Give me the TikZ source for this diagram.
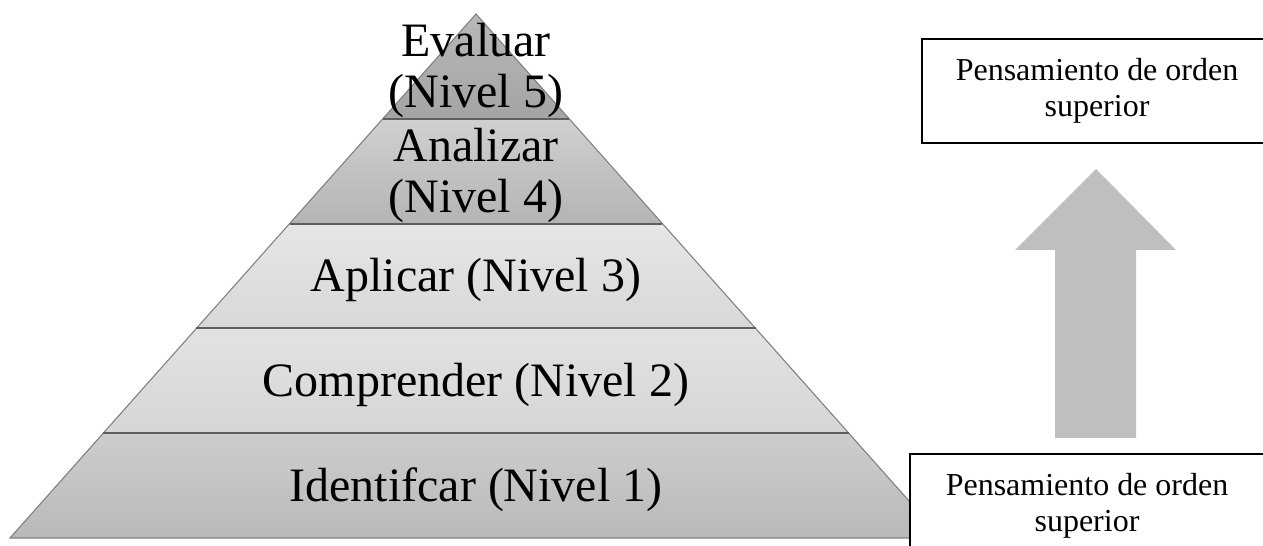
\documentclass[tikz,border=0pt]{standalone}
\usepackage{fontspec}
\setmainfont{Liberation Serif}
\usetikzlibrary{calc}
\definecolor{bandtop0}{HTML}{CDCDCD}
\definecolor{bandbot0}{HTML}{B9B9B9}
\definecolor{bandtop1}{HTML}{E2E2E2}
\definecolor{bandbot1}{HTML}{D6D6D6}
\definecolor{bandtop2}{HTML}{E6E6E6}
\definecolor{bandbot2}{HTML}{D8D8D8}
\definecolor{bandtop3}{HTML}{D0D0D0}
\definecolor{bandbot3}{HTML}{B4B4B4}
\definecolor{bandtop4}{HTML}{B8B8B8}
\definecolor{bandbot4}{HTML}{A4A4A4}
\definecolor{edgecol}{HTML}{7F7F7F}
\definecolor{sepcol}{HTML}{5F5F5F}
\definecolor{arrowcol}{HTML}{BFBFBF}
\tikzset{
  lvl/.style={align=center, inner sep=0pt, yshift=-0.08cm, font=\fontsize{27.3}{28.8}\selectfont},
  sidebox/.style={draw, line width=0.85pt, fill=white, align=center,
    minimum width=7cm, minimum height=2.08cm, inner sep=0pt,
    font=\fontsize{18.2}{20.5}\selectfont},
  sepline/.style={draw=sepcol, line width=1.1pt},
  edgeline/.style={draw=edgecol, line width=0.6pt},
}

\begin{document}
\begin{tikzpicture}
  \useasboundingbox (0,0) rectangle (25.26,10.92);
  \clip (0,0) rectangle (25.26,10.92);
  % pyramid corners
  \coordinate (bl)   at (0.2,  0.16);
  \coordinate (br)   at (18.84,0.16);
  \coordinate (bc)   at (9.52, 0.16);
  \coordinate (apex) at (9.52, 10.64);
  \foreach \k in {0,...,4} {
    \pgfmathsetmacro\lo{\k/5}
    \pgfmathsetmacro\hi{(\k+1)/5}
    \shade[top color=bandtop\k, bottom color=bandbot\k]
      ($(bl)!\lo!(apex)$) -- ($(br)!\lo!(apex)$) -- ($(br)!\hi!(apex)$) -- ($(bl)!\hi!(apex)$) -- cycle;
  }
  \draw[edgeline] (bl) -- (apex) -- (br) -- cycle;
  \foreach \k in {1,...,4}
    \draw[sepline] ($(bl)!\k/5!(apex)$) -- ($(br)!\k/5!(apex)$);
  % levels
  \node[lvl] (nivel1) at ($(bc)!0.1!(apex)$) {Identifcar (Nivel 1)};
  \node[lvl] (nivel2) at ($(bc)!0.3!(apex)$) {Comprender (Nivel 2)};
  \node[lvl] (nivel3) at ($(bc)!0.5!(apex)$) {Aplicar (Nivel 3)};
  \node[lvl] (nivel4) at ($(bc)!0.7!(apex)$) {Analizar\\(Nivel 4)};
  \node[lvl] (nivel5) at ($(bc)!0.9!(apex)$) {Evaluar\\(Nivel 5)};
  % block arrow
  \fill[arrowcol] (21.10,2.16) -- (22.72,2.16) -- (22.72,5.92) -- (23.52,5.92)
    -- (21.92,7.54) -- (20.30,5.92) -- (21.10,5.92) -- cycle;
  % boxes
  \node[sidebox] (alto) at (21.94,9.10) {Pensamiento de orden\\superior};
  \node[sidebox, minimum width=7.08cm] (bajo) at (21.74,0.80) {Pensamiento de orden\\superior};
\end{tikzpicture}
\end{document}
